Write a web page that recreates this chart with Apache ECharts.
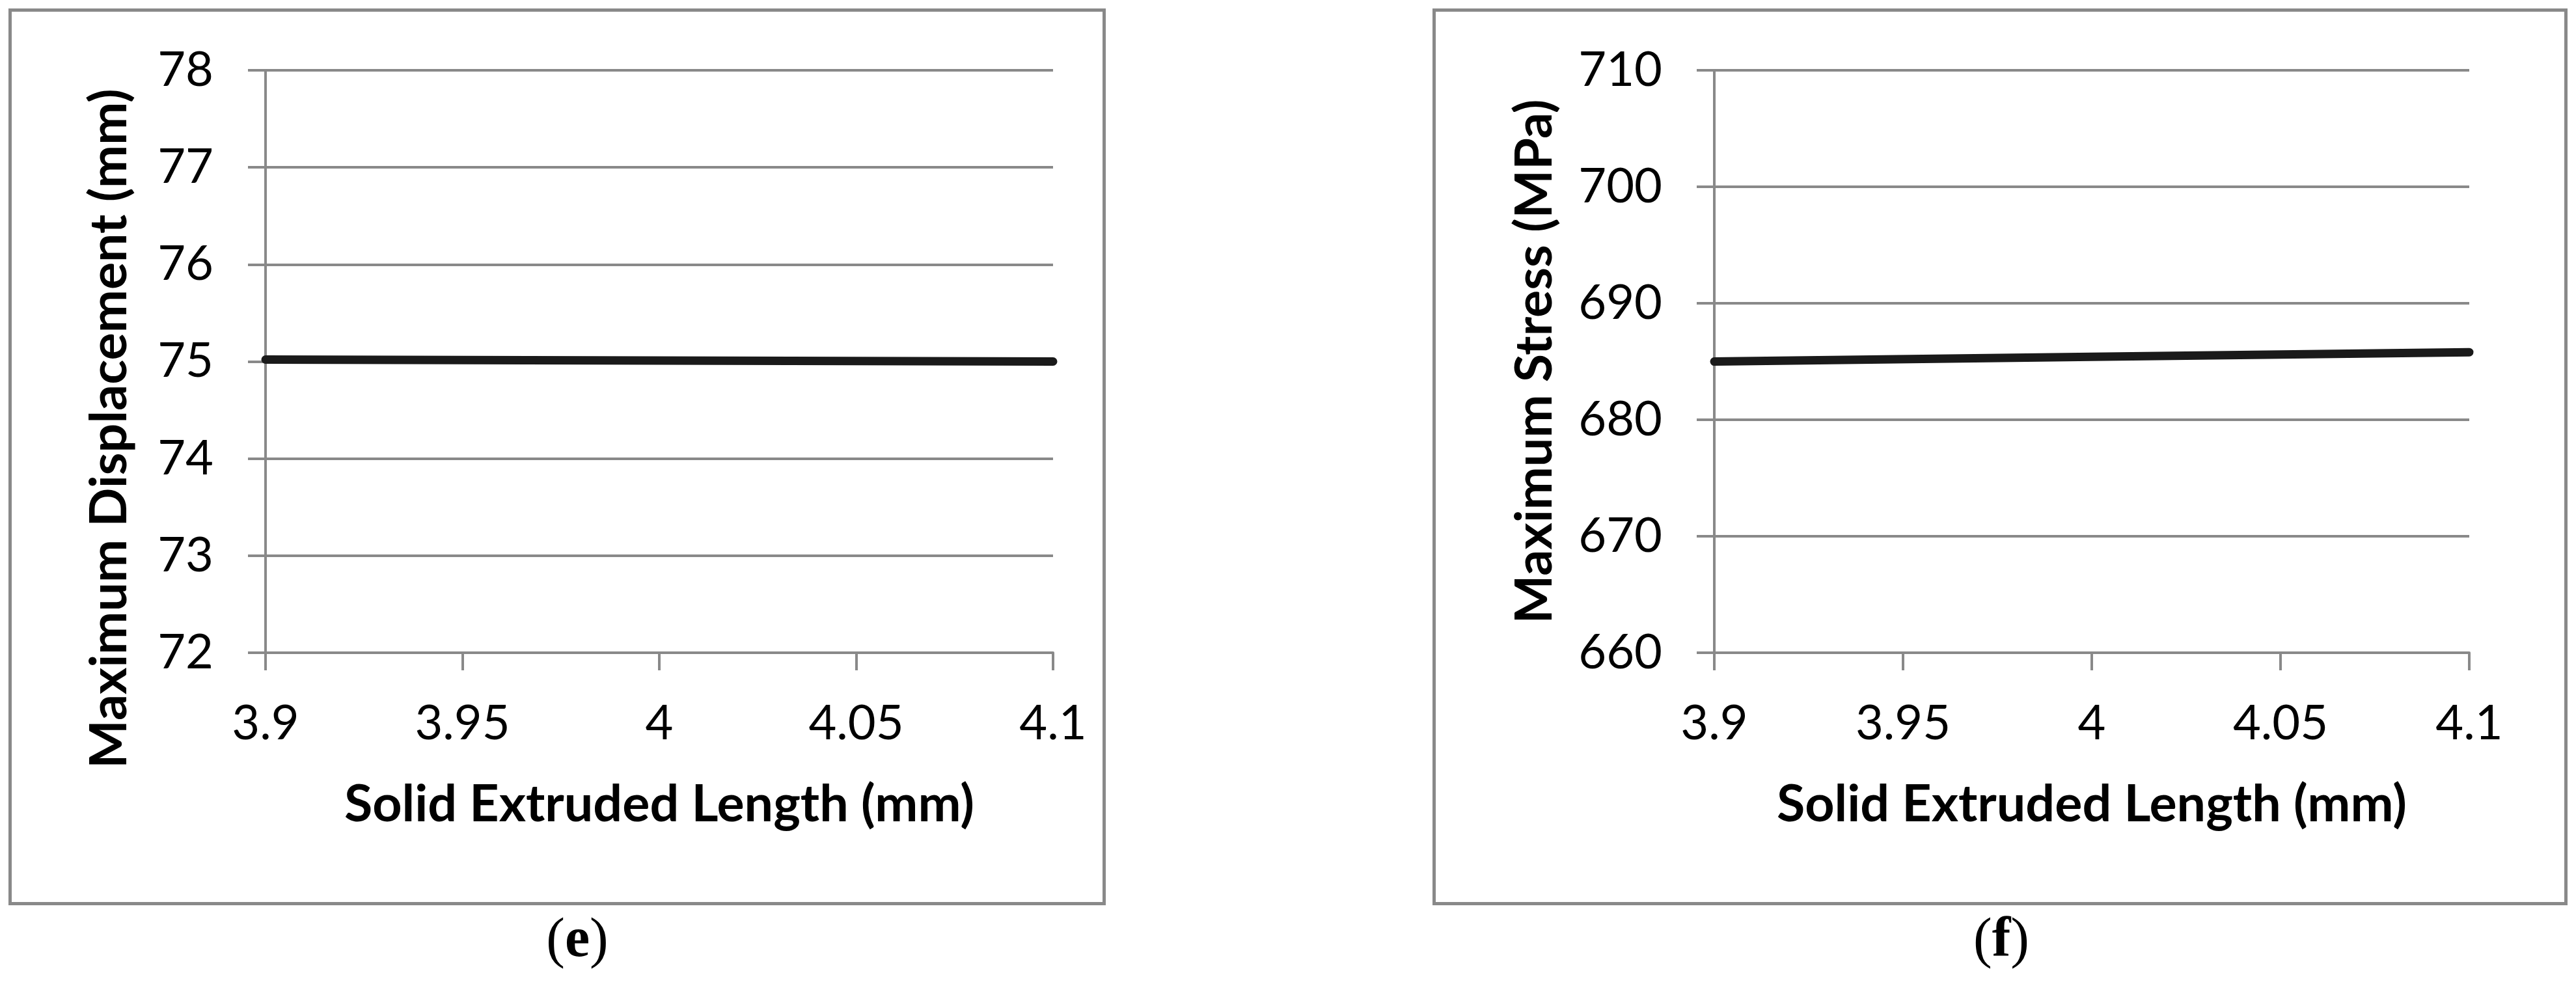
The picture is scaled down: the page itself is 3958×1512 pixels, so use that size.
<!DOCTYPE html>
<html>
<head>
<meta charset="utf-8">
<script src="https://cdn.jsdelivr.net/npm/echarts@6/dist/echarts.min.js"></script>
<style>
  html, body { margin: 0; padding: 0; background: #ffffff; }
  #chart { width: 3958px; height: 1512px; }
</style>
</head>
<body>
<div id="chart"></div>
<script>
// ---- data ----
const extrudedLength = [3.9, 4.0, 4.1];          // Solid Extruded Length (mm)
const maxDisplacement = [75.02, 75.01, 75.0];    // Maximum Displacement (mm)
const maxStress = [685.0, 685.4, 685.8];         // Maximum Stress (MPa)
const xRange = { min: 3.9, max: 4.1, interval: 0.05 };
const dispRange = { min: 72, max: 78, interval: 1 };
const stressRange = { min: 660, max: 710, interval: 10 };
const xTitle = 'Solid Extruded Length (mm)';
const dispTitle = 'Maximum Displacement (mm)';
const stressTitle = 'Maximum Stress (MPa)';
const captions = ['e', 'f'];

// ---- styles ----
const GRAY = '#898989';
const LINE = '#1a1a1a';
const SANS = 'Lato, "Open Sans", sans-serif';
const SERIF = '"Liberation Serif", "DejaVu Serif", serif';

function xAxisCfg(gridIndex) {
  return {
    type: 'value', gridIndex,
    min: xRange.min, max: xRange.max, interval: xRange.interval,
    name: xTitle, nameLocation: 'middle', nameGap: 194,
    nameTextStyle: { fontFamily: SANS, fontWeight: 'bold', fontSize: 79, color: '#000' },
    axisLine: { show: true, onZero: false, lineStyle: { color: GRAY, width: 4 } },
    axisTick: { show: true, length: 27, lineStyle: { color: GRAY, width: 4 } },
    axisLabel: { fontFamily: SANS, fontSize: 74, color: '#000', margin: 72, showMinLabel: true, showMaxLabel: true,
      formatter: v => String(Math.round(v * 100) / 100) },
    splitLine: { show: false }
  };
}
function yAxisCfg(gridIndex, range, title, gap, shift) {
  return {
    type: 'value', gridIndex,
    min: range.min, max: range.max, interval: range.interval,
    name: title, nameLocation: 'middle', nameGap: gap,
    nameTextStyle: { fontFamily: SANS, fontWeight: 'bold', fontSize: 79, color: '#000', padding: [0, shift, 0, 0] },
    axisLine: { show: true, lineStyle: { color: GRAY, width: 4 } },
    axisTick: { show: true, length: 27, lineStyle: { color: GRAY, width: 4 } },
    axisLabel: { fontFamily: SANS, fontSize: 74, color: '#000', margin: 80 },
    splitLine: { show: true, lineStyle: { color: GRAY, width: 4 } }
  };
}
function lineSeries(idx, values) {
  return {
    type: 'line', xAxisIndex: idx, yAxisIndex: idx,
    data: extrudedLength.map((x, i) => [x, values[i]]),
    showSymbol: false, symbol: 'none', silent: true,
    lineStyle: { color: LINE, width: 13, cap: 'round', join: 'round' },
    z: 5
  };
}
function caption(letter, cx) {
  return {
    type: 'text', x: cx, y: 1490, silent: true,
    style: {
      text: '{r|(}{b|' + letter + '}{r|)}',
      textAlign: 'center', textVerticalAlign: 'bottom',
      rich: {
        r: { fontFamily: SERIF, fontSize: 86, color: '#000' },
        b: { fontFamily: SERIF, fontSize: 86, fontWeight: 'bold', color: '#000' }
      }
    }
  };
}

const chart = echarts.init(document.getElementById('chart'), null, { renderer: 'canvas' });
chart.setOption({
  backgroundColor: '#ffffff',
  animation: false,
  grid: [
    { left: 408, right: 3958 - 1618, top: 108, bottom: 1512 - 1003 },
    { left: 2634, right: 3958 - 3794, top: 108, bottom: 1512 - 1003 }
  ],
  xAxis: [xAxisCfg(0), xAxisCfg(1)],
  yAxis: [
    yAxisCfg(0, dispRange, dispTitle, 200, 206),
    yAxisCfg(1, stressRange, stressTitle, 236, 0)
  ],
  series: [lineSeries(0, maxDisplacement), lineSeries(1, maxStress)],
  graphic: [
    { type: 'rect', silent: true, shape: { x: 15.5, y: 15.5, width: 1681, height: 1373 },
      style: { fill: 'none', stroke: GRAY, lineWidth: 5 } },
    { type: 'rect', silent: true, shape: { x: 2203.5, y: 15.5, width: 1739, height: 1373 },
      style: { fill: 'none', stroke: GRAY, lineWidth: 5 } },
    caption(captions[0], 887),
    caption(captions[1], 3075)
  ]
});
</script>
</body>
</html>
